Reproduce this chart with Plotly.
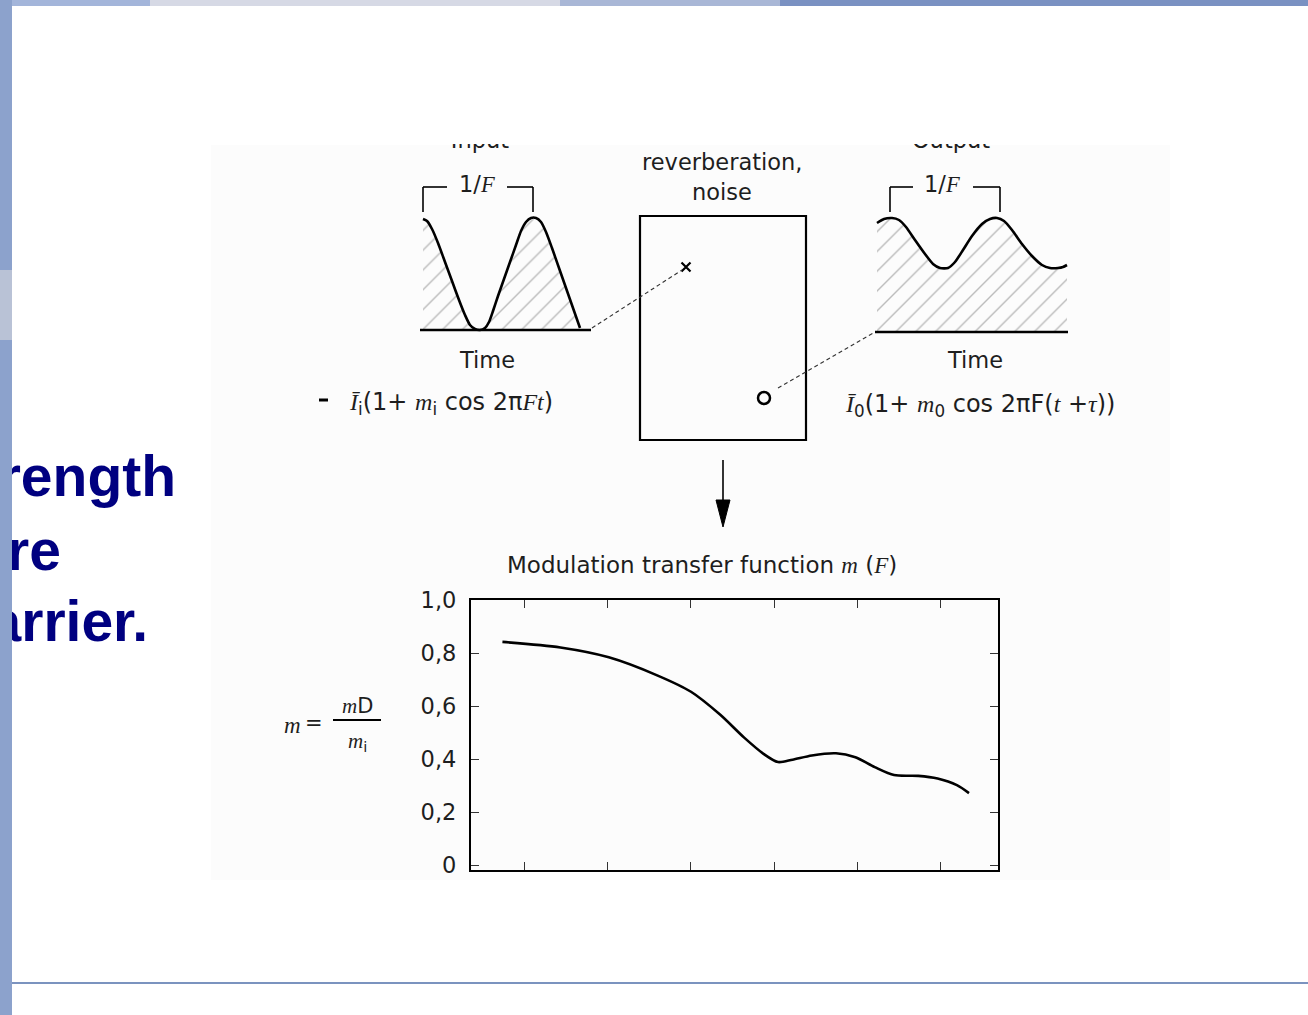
import plotly.graph_objects as go

# ---------------- data ----------------
# Modulation transfer function curve (x in octave-band tick units, y = m)
MTF_BAND = [0.739, 1.435, 2.015, 2.595, 3.001, 3.349, 3.639, 3.871, 4.045, 4.219,
            4.451, 4.741, 4.973, 5.205, 5.437, 5.727, 5.959, 6.191, 6.336]
MTF_M = [0.842, 0.821, 0.784, 0.716, 0.654, 0.568, 0.481, 0.420, 0.389, 0.398,
         0.414, 0.422, 0.407, 0.370, 0.340, 0.337, 0.327, 0.302, 0.272]
BAND_TICKS = [1, 2, 3, 4, 5, 6]
M_TICKS = [0, 0.2, 0.4, 0.6, 0.8, 1.0]
M_TICK_LABELS = ["0", "0,2", "0,4", "0,6", "0,8", "1,0"]

# Schematic input / output intensity waveforms (page pixel units)
INPUT_T = [423, 427, 432, 438, 445, 452, 459, 465, 470, 475, 480, 485, 489, 493,
           498, 504, 510, 516, 521, 526, 531, 536, 541, 546, 552, 559, 566, 573, 580]
INPUT_I = [219, 221, 229, 243, 262, 281, 300, 315, 325, 329, 330, 328, 322, 311,
           296, 279, 262, 245, 231, 222, 218, 218, 222, 232, 248, 268, 288, 308, 328]
OUTPUT_T = [877, 884, 892, 899, 906, 915, 925, 933, 940, 948, 955, 963, 972, 982,
            990, 997, 1004, 1012, 1022, 1032, 1042, 1050, 1058, 1063, 1067]
OUTPUT_I = [223, 219, 218, 220, 227, 240, 254, 264, 268, 268, 262, 250, 236, 224,
            219, 218, 221, 230, 244, 256, 265, 268, 268, 267, 265]
INPUT_BASE = 330
OUTPUT_BASE = 332

W, H = 1308, 1015
TXT = "#1e1e1e"
SANS = "DejaVu Sans"
SERIF = "Liberation Serif"
FS = 22.5


def it(s):
    return f'<span style="font-family:{SERIF}"><i>{s}</i></span>'


fig = go.Figure()

# ---- MTF curve ----
fig.add_trace(go.Scatter(
    x=MTF_BAND, y=MTF_M, mode="lines", xaxis="x", yaxis="y",
    line=dict(color="black", width=2.6, shape="spline", smoothing=0.8),
    hoverinfo="skip", showlegend=False))


# ---- waveforms with hatching ----
def wave(ts, ys, base):
    fig.add_trace(go.Scatter(
        x=[ts[0], ts[-1]], y=[base, base], mode="lines", line=dict(width=0),
        xaxis="x2", yaxis="y2", hoverinfo="skip", showlegend=False))
    fig.add_trace(go.Scatter(
        x=ts, y=ys, mode="lines", xaxis="x2", yaxis="y2",
        fill="tonexty", fillcolor="rgba(255,255,255,0)",
        fillpattern=dict(shape="/", fgcolor="#7a7a7a", bgcolor="rgba(255,255,255,0)",
                         size=14, solidity=0.1),
        line=dict(color="black", width=2.6, shape="spline", smoothing=0.6),
        hoverinfo="skip", showlegend=False))


wave(INPUT_T, INPUT_I, INPUT_BASE)
wave(OUTPUT_T, OUTPUT_I, OUTPUT_BASE)

# markers x and o in the room box
fig.add_trace(go.Scatter(
    x=[686], y=[267], mode="markers", xaxis="x2", yaxis="y2",
    marker=dict(symbol="x-thin", size=9, line=dict(color="black", width=2.2)),
    hoverinfo="skip", showlegend=False))
fig.add_trace(go.Scatter(
    x=[764], y=[398], mode="markers", xaxis="x2", yaxis="y2",
    marker=dict(symbol="circle-open", size=12, color="black", line=dict(width=2.5)),
    hoverinfo="skip", showlegend=False))

# partially hidden headings (top cut off by the picture edge)
fig.add_trace(go.Scatter(
    x=[480, 951], y=[142, 142], mode="text", text=["Input", "Output"],
    textposition="middle center", xaxis="x2", yaxis="y2",
    textfont=dict(family=SANS, size=FS, color=TXT),
    hoverinfo="skip", showlegend=False))

# big navy slide text, clipped by the left bar
fig.add_trace(go.Scatter(
    x=[176, 61, 148], y=[482, 556, 627], mode="text",
    text=["strength", "are", "carrier."], textposition="middle left",
    xaxis="x2", yaxis="y2",
    textfont=dict(family="Liberation Sans", size=57, color="#000080", weight="bold"),
    hoverinfo="skip", showlegend=False))

shapes = []


def line(x0, y0, x1, y1, w=2, color="black", dash=None, layer="above"):
    d = dict(type="line", xref="x2", yref="y2", x0=x0, y0=y0, x1=x1, y1=y1,
             line=dict(color=color, width=w), layer=layer)
    if dash:
        d["line"]["dash"] = dash
    shapes.append(d)


def rect(x0, y0, x1, y1, color, layer="above"):
    shapes.append(dict(type="rect", xref="x2", yref="y2", x0=x0, y0=y0, x1=x1, y1=y1,
                       fillcolor=color, line=dict(width=0), layer=layer))


# faint picture background (paper-referenced so it stays under every subplot)
shapes.append(dict(type="rect", xref="paper", yref="paper",
                   x0=211 / W, y0=1 - 880 / H, x1=1170 / W, y1=1 - 145 / H,
                   fillcolor="#fcfcfc", line=dict(width=0), layer="below"))
# baselines
line(420, INPUT_BASE, 591, INPUT_BASE, w=2.5)
line(875, OUTPUT_BASE, 1068, OUTPUT_BASE, w=2.5)
# 1/F brackets
for (a, b, c, d) in [(423, 447, 507, 533), (890, 913, 973, 1000)]:
    line(a, 187, b, 187, w=1.6)
    line(c, 187, d, 187, w=1.6)
    line(a, 187, a, 212, w=1.6)
    line(d, 187, d, 212, w=1.6)
# room box
shapes.append(dict(type="rect", xref="x2", yref="y2", x0=640, y0=216, x1=806, y1=440,
                   line=dict(color="black", width=2.2), layer="above"))
# dashed links
line(592, 328, 682, 270, w=1.1, color="#333", dash="4px,3px")
line(778, 388, 875, 332, w=1.1, color="#333", dash="4px,3px")
# dash before input formula
line(319, 400, 328, 400, w=3)
# arrow
line(723, 460, 723, 502, w=1.6)
shapes.append(dict(type="path", xref="x2", yref="y2",
                   path="M 716 500 L 730 500 L 723 527 Z",
                   fillcolor="black", line=dict(color="black", width=1), layer="above"))
# fraction bar
line(333, 720, 381, 720, w=2)
# cover above picture edge
rect(205, 6, 1175, 144, "white")
# slide decoration: top stripe and left bar
rect(0, 0, 150, 6, "#a3b5da")
rect(150, 0, 560, 6, "#d6d9e5")
rect(560, 0, 780, 6, "#a9b7d6")
rect(780, 0, W, 6, "#7a91c2")
rect(0, 0, 12, H, "#8ca2cc")
rect(0, 270, 12, 340, "#b9c2d6")
line(12, 983, W, 983, w=2, color="#7b93bf")

ann = []


def text(x, y, s, size=FS, xanchor="center", family=SANS):
    ann.append(dict(x=x, y=y, xref="x2", yref="y2", text=s, showarrow=False,
                    xanchor=xanchor, yanchor="middle",
                    font=dict(family=family, size=size, color=TXT)))


text(722, 162, "reverberation,")
text(722, 192, "noise")
text(477, 184, "1/" + it("F"))
text(942, 184, "1/" + it("F"))
text(487, 360, "Time")
text(975, 360, "Time")
text(451, 403, it("Ī") + "<sub>i</sub>(1+ " + it("m") + "<sub>i</sub> cos 2π" + it("Ft") + ")", size=24)
text(980, 405, it("Ī") + "<sub>0</sub>(1+ " + it("m") + "<sub>0</sub> cos 2πF(" + it("t") + " +" + it("τ") + "))", size=24)
text(702, 565, "Modulation transfer function " + it("m") + " (" + it("F") + ")", size=23)
text(292, 725, it("m"), size=23)
text(314, 723, "=", size=21)
text(357, 706, it("m") + "D", size=21)
text(357, 742, it("m") + "<sub>i</sub>", size=21)

fig.update_layout(
    width=W, height=H, margin=dict(l=0, r=0, t=0, b=0, pad=0, autoexpand=False),
    paper_bgcolor="white", plot_bgcolor="rgba(0,0,0,0)",
    showlegend=False, shapes=shapes, annotations=ann,
    xaxis=dict(domain=[471 / W, 998 / W], range=[0.362, 6.684], anchor="y",
               tickvals=BAND_TICKS, showticklabels=False,
               ticks="inside", ticklen=8, tickwidth=1.2, tickcolor="#333",
               showline=True, linewidth=2.2, linecolor="black", mirror="ticks",
               showgrid=False, zeroline=False, fixedrange=True, automargin=False),
    yaxis=dict(domain=[1 - 870 / H, 1 - 600 / H], range=[-0.018, 1.0], anchor="x",
               tickvals=M_TICKS, ticktext=M_TICK_LABELS,
               ticks="inside", ticklen=8, tickwidth=1.2, tickcolor="#333",
               ticklabelstandoff=8,
               tickfont=dict(family=SANS, size=FS, color=TXT),
               showline=True, linewidth=2.2, linecolor="black", mirror="ticks",
               showgrid=False, zeroline=False, fixedrange=True, automargin=False),
    xaxis2=dict(domain=[0, 1], range=[0, W], anchor="y2", visible=False,
                fixedrange=True, automargin=False),
    yaxis2=dict(domain=[0, 1], range=[H, 0], anchor="x2", visible=False,
                fixedrange=True, automargin=False),
)

fig.write_html("out.html", config={"displayModeBar": False})
with open("out.html", encoding="utf-8") as f:
    html = f.read()
html = html.replace("<body>", '<body style="margin:0;overflow:hidden">', 1)
with open("out.html", "w", encoding="utf-8") as f:
    f.write(html)
